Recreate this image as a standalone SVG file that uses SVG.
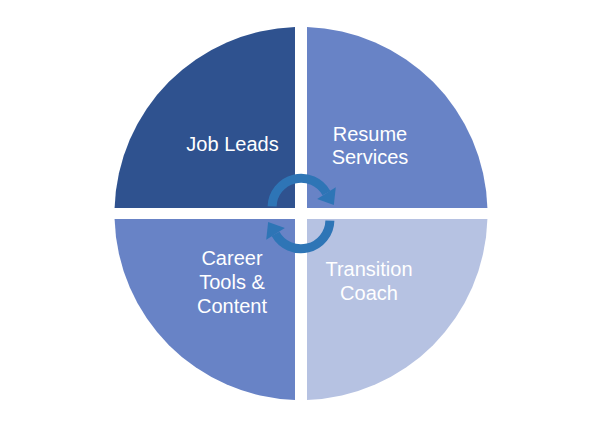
<svg xmlns="http://www.w3.org/2000/svg" width="600" height="423" viewBox="0 0 600 423">
<style>
.lbl{font-family:"Liberation Sans",Arial,sans-serif;font-size:20px;fill:#ffffff;text-anchor:middle}
.arc{fill:none;stroke:#2E75B6;stroke-width:9}
.head{fill:#2E75B6}
</style>
<rect width="600" height="423" fill="#ffffff"/>
<g id="job-leads">
<path d="M295,208 L114.58,208 A186.5,186.5 0 0 1 295,27.1 Z" fill="#2F528F"/>
<text class="lbl" x="232.5" y="151">Job Leads</text>
</g>
<g id="resume-services">
<path d="M307,208 L307,27.1 A186.5,186.5 0 0 1 487.42,208 Z" fill="#6883C6"/>
<text class="lbl" x="370" y="141">Resume</text>
<text class="lbl" x="370" y="164">Services</text>
</g>
<g id="transition-coach">
<path d="M307,219 L487.42,219 A186.5,186.5 0 0 1 307,399.9 Z" fill="#B6C2E2"/>
<text class="lbl" x="369" y="276">Transition</text>
<text class="lbl" x="369" y="300">Coach</text>
</g>
<g id="career-tools">
<path d="M295,219 L295,399.9 A186.5,186.5 0 0 1 114.58,219 Z" fill="#6883C6"/>
<text class="lbl" x="232" y="265">Career</text>
<text class="lbl" x="232" y="289">Tools &amp;</text>
<text class="lbl" x="232" y="313">Content</text>
</g>
<g id="connectors">
<path class="arc" d="M272.11,206.47 A29,29 0 0 1 326.44,193.1"/>
<polygon class="head" points="317.11,198.93 335.77,187.27 333.86,204.97"/>
<path class="arc" d="M329.89,220.53 A29,29 0 0 1 275.56,233.9"/>
<polygon class="head" points="284.89,228.07 266.23,239.73 268.14,222.03"/>
</g>
</svg>
